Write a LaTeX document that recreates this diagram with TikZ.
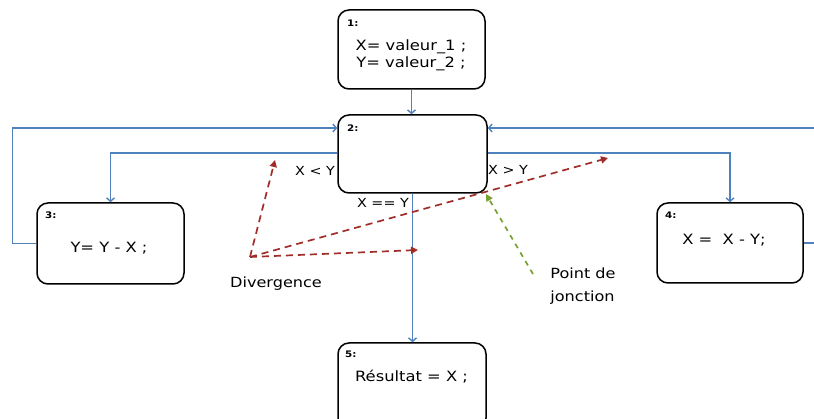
\documentclass[tikz,border=0pt]{standalone}
\usepackage{fontspec}
\setmainfont[FakeStretch=1.15]{DejaVu Sans}
\usetikzlibrary{arrows.meta}
\definecolor{flowblue}{RGB}{79,129,189}
\definecolor{divred}{RGB}{160,45,40}
\definecolor{jgreen}{RGB}{120,160,50}
\begin{document}
\begin{tikzpicture}[x=1pt,y=-1pt,
  stepbox/.style={draw=black, line width=1.5pt, rounded corners=11pt, inner sep=0pt},
  flow/.style={draw=flowblue, line width=1.4pt, -{Straight Barb[length=3.5pt,width=8pt]}},
  txt/.style={font=\fontsize{12.5}{16}\selectfont, align=center, inner sep=0pt},
  boxtxt/.style={font=\fontsize{14.2}{17}\selectfont, align=center, inner sep=0pt},
  idx/.style={font=\fontsize{9}{10}\selectfont\bfseries, anchor=west, inner sep=0pt},
  note/.style={font=\fontsize{14}{23}\selectfont, inner sep=0pt, align=left},
  div/.style={draw=divred, line width=1.7pt, dash pattern=on 7pt off 5pt, -{Triangle[length=7pt,width=7pt]}},
  jn/.style={draw=jgreen, line width=1.7pt, dash pattern=on 5pt off 5pt, -{Triangle[length=7pt,width=7pt]}}]
\useasboundingbox (0,0) rectangle (814,419);
\clip (0,0) rectangle (814,419);

% boxes
\node[stepbox, minimum width=147pt, minimum height=79pt] (b1) at (411.5,49.5) {};
\node[stepbox, minimum width=149pt, minimum height=78pt] (b2) at (412.5,154) {};
\node[stepbox, minimum width=147pt, minimum height=81pt] (b3) at (110.5,243.5) {};
\node[stepbox, minimum width=146pt, minimum height=80pt] (b4) at (730,243) {};
\node[stepbox, minimum width=148pt, minimum height=86pt] (b5) at (412,386) {};

% index labels
\node[idx] (l1) at (347,23) {1:};
\node[idx] (l2) at (347,128) {2:};
\node[idx] (l3) at (45,215) {3:};
\node[idx] (l4) at (665,215) {4:};
\node[idx] (l5) at (345,354) {5:};

% box texts
\node[boxtxt] (t1) at (411,55) {X= valeur\_1 ;\\Y= valeur\_2 ;};
\node[boxtxt] (t3) at (109,248) {Y= Y - X ;};
\node[boxtxt] (t4) at (724,240) {X =\ \ X - Y;};
\node[boxtxt] (t5) at (411.5,377) {Résultat = X ;};

% condition labels
\node[txt] (cl) at (315,171) {X < Y};
\node[txt] (cg) at (508,170) {X > Y};
\node[txt] (ce) at (383,203) {X == Y};

% annotations
\node[note] (dv) at (276,284) {Divergence};
\node[note] (pj) at (583,286.5) {Point de\\jonction};

% flow connectors
\draw[flow] (b1.south) -- (b1.south |- b2.north);
\draw[flow] (b3.west) -- ++(-24,0) |- ([yshift=26pt]b2.west);
\draw[flow] ([yshift=1pt]b2.west) -| (b3.north);
\draw[flow] ([yshift=1pt]b2.east) -| (b4.north);
\draw[flow] (b4.east) -- ++(30,0) |- ([yshift=26pt]b2.east);
\draw[flow] (b2.south) -- (b2.south |- b5.north);

% divergence arrows
\coordinate (dsrc) at (250,257);
\coordinate (dlt) at (275,160);
\coordinate (dgt) at (608,158);
\coordinate (deq) at (418,250);
\draw[div] (dsrc) -- (dlt);
\draw[div] (dsrc) -- (dgt);
\draw[div] (dsrc) -- (deq);

% junction arrow
\coordinate (jsrc) at (533,274);
\coordinate (jpt) at (486,194);
\draw[jn] (jsrc) -- (jpt);
\end{tikzpicture}
\end{document}
